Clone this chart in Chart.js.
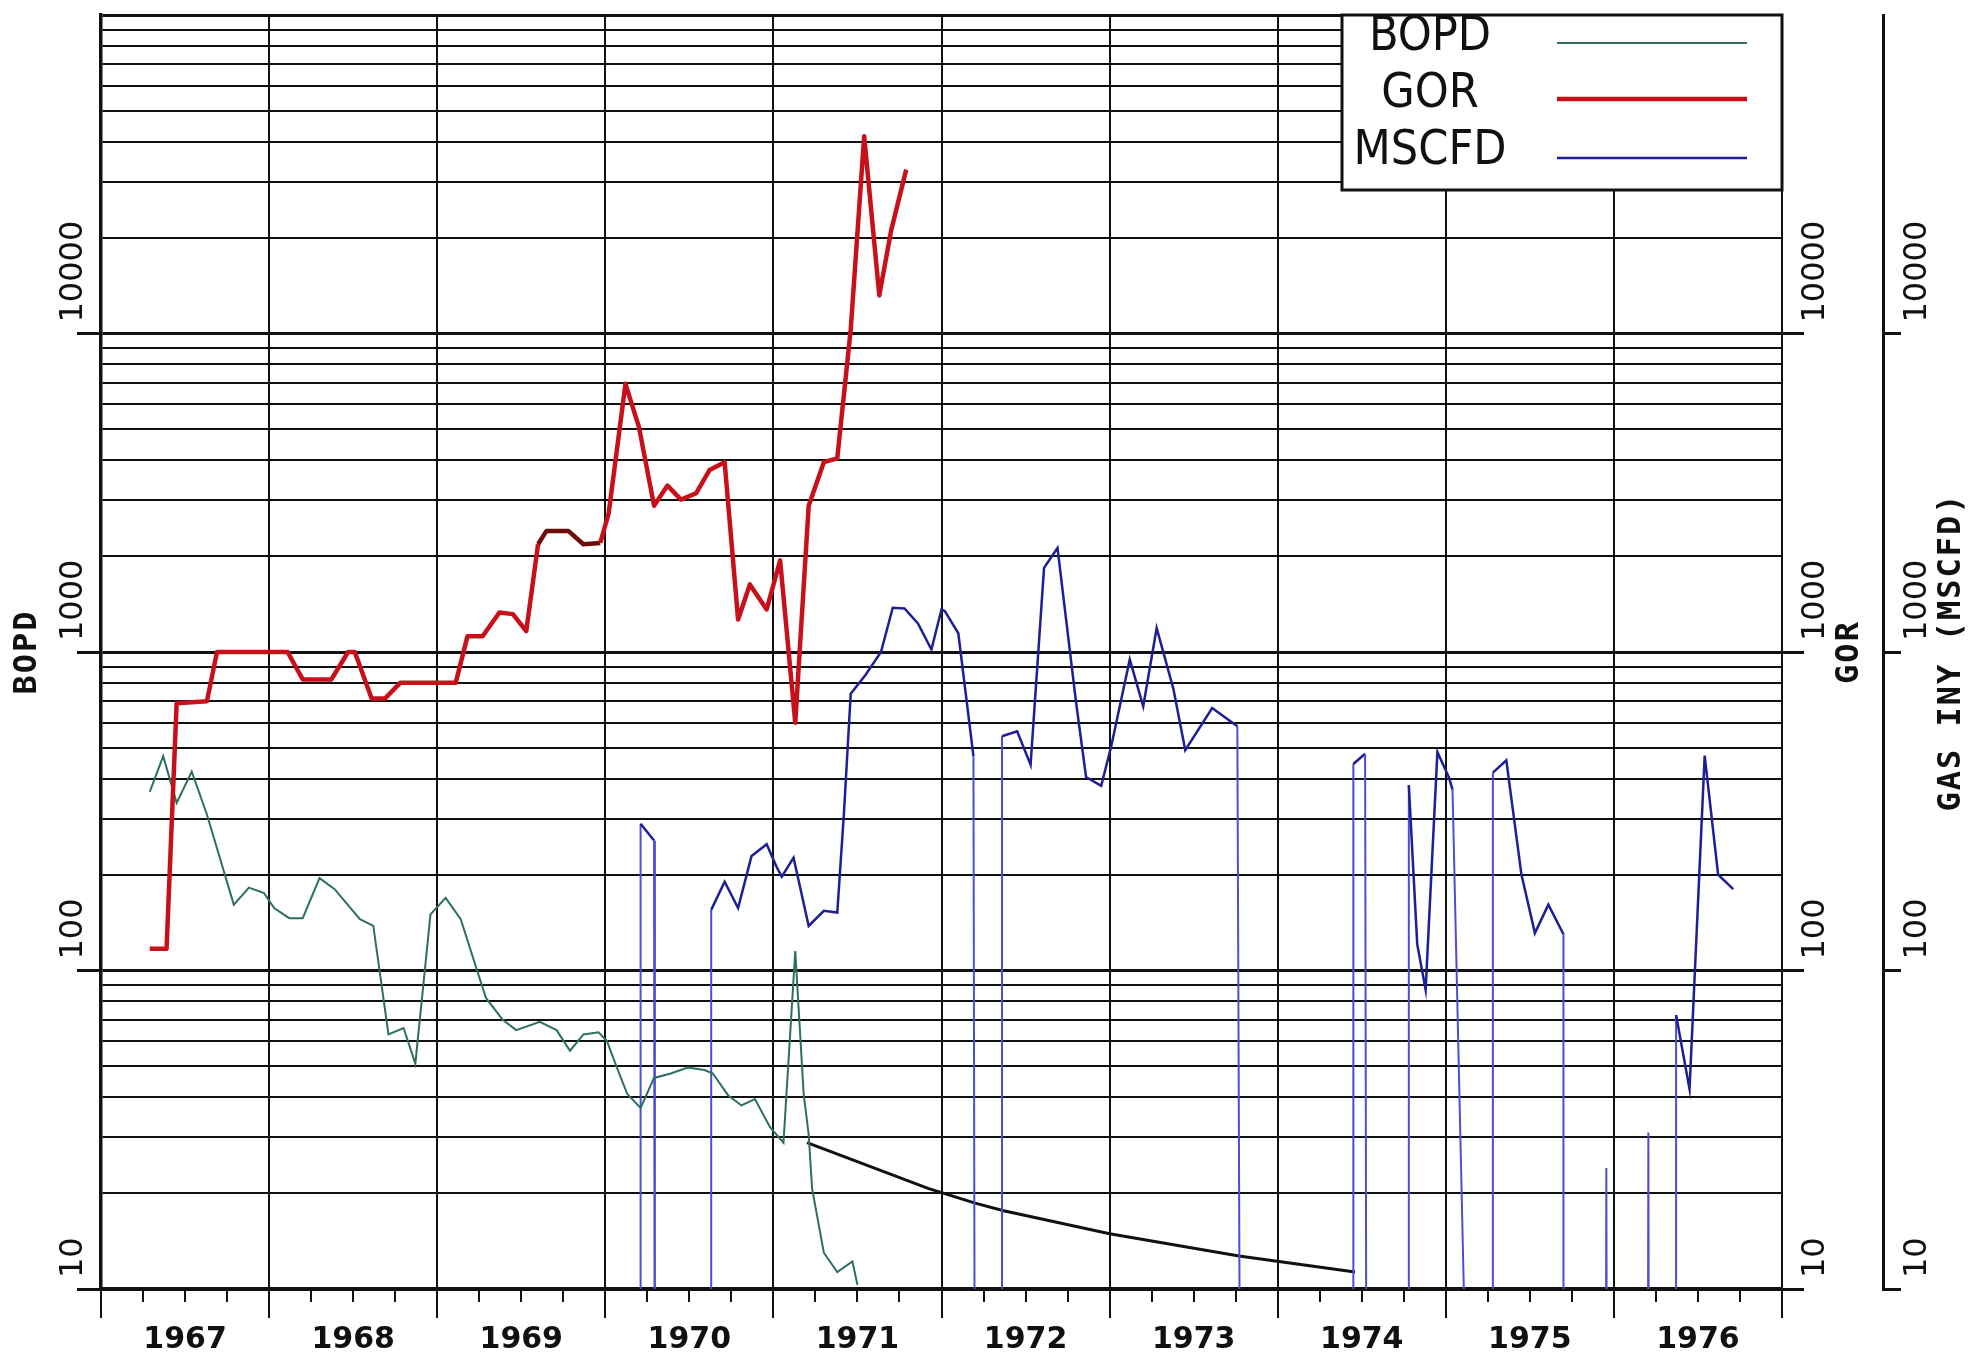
<!DOCTYPE html>
<html>
<head>
<meta charset="utf-8">
<title>BOPD - GOR - MSCFD</title>
<script src="https://cdn.jsdelivr.net/npm/chart.js@4.4.1/dist/chart.umd.min.js"></script>
<style>
    html, body { margin: 0; padding: 0; background: #ffffff; }
    canvas { display: block; }
</style>
</head>
<body>
<canvas id="grafico" width="1977" height="1360"></canvas>
<script>

// ---- data ----

const yearLabels = [
    "1967", "1968", "1969", "1970", "1971",
    "1972", "1973", "1974", "1975", "1976"
];

const decadeTicks = [10, 100, 1000, 10000];

const gorYears = [
    1967.29, 1967.39, 1967.45, 1967.63, 1967.69, 1968.11, 1968.2, 1968.37,
    1968.47, 1968.51, 1968.61, 1968.69, 1968.78, 1969.11, 1969.18, 1969.27,
    1969.37, 1969.45, 1969.53, 1969.6, 1969.65, 1969.78, 1969.87, 1969.97,
    1970.02, 1970.12, 1970.2, 1970.29, 1970.37, 1970.45, 1970.54, 1970.62,
    1970.71, 1970.79, 1970.86, 1970.96, 1971.04, 1971.13, 1971.21, 1971.3,
    1971.38, 1971.46, 1971.54, 1971.63, 1971.7, 1971.79
];

const gorValues = [
    117, 117, 690, 700, 1000, 1000, 820, 820,
    1000, 1000, 715, 715, 800, 800, 1120, 1120,
    1330, 1315, 1164, 2180, 2400, 2400, 2180, 2200,
    2725, 6950, 5090, 2880, 3330, 3010, 3150, 3725,
    3945, 1265, 1630, 1360, 1940, 600, 2880, 3945,
    4055, 10300, 41600, 13170, 21000, 32700
];

const bopdYears = [
    1967.29, 1967.37, 1967.45, 1967.54, 1967.63, 1967.79, 1967.88, 1967.97,
    1968.03, 1968.12, 1968.2, 1968.3, 1968.39, 1968.54, 1968.62, 1968.71,
    1968.8, 1968.87, 1968.96, 1969.05, 1969.14, 1969.29, 1969.39, 1969.47,
    1969.61, 1969.71, 1969.79, 1969.87, 1969.96, 1970.01, 1970.06, 1970.13,
    1970.21, 1970.29, 1970.39, 1970.49, 1970.59, 1970.64, 1970.73, 1970.81,
    1970.89, 1970.98, 1971.06, 1971.13, 1971.18, 1971.21, 1971.23, 1971.3,
    1971.38, 1971.47, 1971.5
];

const bopdValues = [
    364, 471, 336, 421, 309, 161, 182, 175,
    157, 146, 146, 195, 180, 145, 138, 63,
    66, 51, 150, 169, 145, 82, 70, 65,
    69, 65, 56, 63, 64, 60, 51, 41,
    37, 46, 47.5, 49.6, 48.7, 47.5, 40.6, 37.7,
    39.5, 32.2, 28.8, 115, 41, 30.5, 20.7, 13,
    11.3, 12.2, 10.3
];

// a value of 1 means no injection that month (falls below the axis)
const mscfdYears = [
    1970.21, 1970.21, 1970.29, 1970.295,
    1970.63, 1970.63, 1970.71, 1970.79, 1970.87, 1970.96, 1971.02, 1971.05,
    1971.12, 1971.21, 1971.3, 1971.38, 1971.42, 1971.46, 1971.55, 1971.64,
    1971.71, 1971.78, 1971.86, 1971.94, 1972.0, 1972.02, 1972.1, 1972.19, 1972.2,
    1972.36, 1972.36, 1972.45, 1972.53, 1972.61, 1972.69, 1972.8, 1972.86,
    1972.95, 1973.01, 1973.12, 1973.2, 1973.28, 1973.38, 1973.45, 1973.61,
    1973.76, 1973.78,
    1974.45, 1974.45, 1974.52, 1974.53,
    1974.78, 1974.78, 1974.83, 1974.88, 1974.95, 1975.02, 1975.04, 1975.15,
    1975.28, 1975.28, 1975.36, 1975.45, 1975.53, 1975.61, 1975.7, 1975.7,
    1975.95, 1975.955, 1975.96,
    1976.2, 1976.205, 1976.21,
    1976.37, 1976.37, 1976.45, 1976.54, 1976.62, 1976.71
];

const mscfdValues = [
    1, 289, 256, 1,
    1, 155, 190, 157, 229, 249, 211, 197,
    226, 138, 154, 152, 314, 740, 850, 1000,
    1377, 1370, 1230, 1018, 1360, 1343, 1145, 471, 1,
    1, 544, 564, 443, 1837, 2122, 699, 405,
    380, 507, 948, 675, 1189, 764, 492, 667,
    585, 1,
    1, 445, 479, 1,
    1, 382, 121, 87, 485, 402, 370, 1,
    1, 418, 457, 200, 131, 161, 130, 1,
    1, 24, 1,
    1, 31, 1,
    1, 72.5, 42.4, 473, 200, 180
];

const forecastYears = [1971.2, 1971.92, 1972.2, 1972.37, 1973.0, 1973.77, 1974.46];

const forecastValues = [28.8, 20.7, 18.6, 17.6, 14.9, 12.7, 11.3];

// ---- helpers ----

const INK = "#111111";

const CLEAR = "rgba(0,0,0,0)";

const toPoints = (xs, ys) =>
    xs.map((x, i) => ({ x, y: ys[i] }));

const logGridValues = [];

for (let d = 10; d < 100000; d *= 10) {

    for (let m = 1; m < 10; m++) {

        logGridValues.push(m * d);
    }
}

logGridValues.push(100000);

const isDecade = v =>
    [10, 100, 1000, 10000, 100000].includes(v);

const quarterTicks =
    Array.from({ length: 41 }, (_, i) => 1967 + i * 0.25);

const halfTicks =
    Array.from({ length: 21 }, (_, i) => 1967 + i * 0.5);

function drawUp(ctx, text, x, y) {

    ctx.save();

    ctx.translate(x, y);

    ctx.rotate(-Math.PI / 2);

    ctx.fillText(text, 0, 0);

    ctx.restore();
}

// rotated axis numbers + titles, and the boxed legend

const sheetPlugin = {

    id: "sheet",

    afterDraw(chart) {

        const ctx = chart.ctx;

        const area = chart.chartArea;

        const yLeft = chart.scales.y;

        const yGas = chart.scales.yGas;

        ctx.save();

        ctx.fillStyle = INK;

        ctx.textBaseline = "middle";

        // tick numbers
        ctx.font = '32px "DejaVu Sans"';

        ctx.letterSpacing = "0px";

        ctx.textAlign = "left";

        const columns = [
            ["y", yLeft.right - 27],
            ["yGor", area.right + 34],
            ["yGas", yGas.left + 35]
        ];

        columns.forEach(([id, x]) => {

            const scale = chart.scales[id];

            decadeTicks.forEach(v => {

                drawUp(ctx, String(v), x, scale.getPixelForValue(v) - 11);
            });
        });

        // axis titles
        ctx.font = 'bold 32px "DejaVu Sans Mono"';

        ctx.letterSpacing = "2px";

        ctx.textAlign = "center";

        const mid = yLeft.getPixelForValue(1000);

        drawUp(ctx, "BOPD", yLeft.left + 28, mid);

        drawUp(ctx, "GOR", area.right + 68, mid);

        drawUp(ctx, "GAS INY (MSCFD)", yGas.left + 69, mid);

        // legend box
        const box = {
            left: area.right - 440,
            top: area.top,
            right: area.right,
            bottom: area.top + 175
        };

        ctx.fillStyle = "#ffffff";

        ctx.fillRect(box.left, box.top, box.right - box.left, box.bottom - box.top);

        ctx.strokeStyle = INK;

        ctx.lineWidth = 3;

        ctx.strokeRect(box.left, box.top, box.right - box.left, box.bottom - box.top);

        ctx.font = '48px "Liberation Sans Narrow", "DejaVu Sans Condensed", "DejaVu Sans"';

        ctx.letterSpacing = "0px";

        ctx.fillStyle = INK;

        const rows = ["BOPD", "GOR", "MSCFD"];

        const rowY = [38, 95, 152];

        const lineY = [43, 99, 158];

        rows.forEach((name, i) => {

            const ds =
                chart.data.datasets.find(d => d.label === name);

            ctx.fillText(name, box.left + 88, box.top + rowY[i] - 15);

            ctx.strokeStyle = ds.borderColor;

            ctx.lineWidth = ds.borderWidth;

            ctx.beginPath();

            ctx.moveTo(box.left + 215, box.top + lineY[i] - 15);

            ctx.lineTo(box.left + 405, box.top + lineY[i] - 15);

            ctx.stroke();
        });

        ctx.restore();
    }
};

// ---- chart ----

let charts = {};

function renderChart() {

    const canvas = document.getElementById("grafico");

    if (!canvas || typeof Chart === "undefined") {
        return;
    }

    const logAxis = (position, extra) => Object.assign({

        type: "logarithmic",

        position,

        min: 10,

        max: 100000,

        ticks: { display: false }

    }, extra);

    charts.sheet = new Chart(canvas, {

        type: "line",

        data: {

            datasets: [
                {
                    label: "GOR",

                    data: toPoints(gorYears, gorValues),

                    borderColor: "#c8101a",

                    borderWidth: 4.5,

                    borderJoinStyle: "round",

                    segment: {
                        borderColor: c =>
                            c.p0.parsed.x >= 1969.58 && c.p1.parsed.x <= 1970.0
                                ? "#6e0b0b"
                                : undefined
                    }
                },
                {
                    label: "BOPD",

                    data: toPoints(bopdYears, bopdValues),

                    borderColor: "#2f6e62",

                    borderWidth: 2
                },
                {
                    label: "MSCFD",

                    data: toPoints(mscfdYears, mscfdValues),

                    borderColor: "#1e1e96",

                    borderWidth: 2.5,

                    segment: {
                        borderColor: c =>
                            c.p0.parsed.y < 10 || c.p1.parsed.y < 10
                                ? "#4d4dd2"
                                : undefined,

                        borderWidth: c =>
                            c.p0.parsed.y < 10 || c.p1.parsed.y < 10
                                ? 2
                                : undefined
                    }
                },
                {
                    label: "",

                    data: toPoints(forecastYears, forecastValues),

                    borderColor: INK,

                    borderWidth: 3
                }
            ].map(ds => Object.assign({

                pointRadius: 0,

                tension: 0,

                fill: false,

                clip: 0

            }, ds))
        },

        options: {

            responsive: false,

            animation: false,

            events: [],

            layout: {
                padding: { top: 15, left: 0, right: 0, bottom: 0 }
            },

            plugins: {

                legend: { display: false },

                tooltip: { enabled: false }
            },

            scales: {

                x: {

                    type: "linear",

                    position: "bottom",

                    min: 1967,

                    max: 1977,

                    afterBuildTicks: s => {
                        s.ticks = quarterTicks.map(value => ({ value }));
                    },

                    grid: {

                        color: c =>
                            c.tick && Number.isInteger(c.tick.value)
                                ? INK
                                : CLEAR,

                        lineWidth: 2,

                        tickLength: 13,

                        tickColor: INK
                    },

                    border: { display: true, color: INK, width: 3.5 },

                    ticks: { display: false },

                    afterFit: s => { s.height = 13; }
                },

                x2: {

                    type: "linear",

                    position: "bottom",

                    weight: 1,

                    min: 1967,

                    max: 1977,

                    afterBuildTicks: s => {
                        s.ticks = halfTicks.map(value => ({ value }));
                    },

                    grid: {

                        drawOnChartArea: false,

                        lineWidth: 2,

                        tickLength: 16,

                        tickColor: c =>
                            c.tick && Number.isInteger(c.tick.value)
                                ? INK
                                : CLEAR
                    },

                    border: { display: false },

                    ticks: {

                        autoSkip: false,

                        maxRotation: 0,

                        minRotation: 0,

                        padding: 4,

                        color: INK,

                        font: { family: '"DejaVu Sans"', size: 30, weight: "bold" },

                        callback: v =>
                            Number.isInteger(v)
                                ? ""
                                : yearLabels[Math.floor(v) - 1967]
                    },

                    afterFit: s => { s.height = 58; }
                },

                y: logAxis("left", {

                    afterBuildTicks: s => {
                        s.ticks = logGridValues.map(value => ({ value }));
                    },

                    grid: {

                        color: INK,

                        lineWidth: c => c.tick && isDecade(c.tick.value) ? 3 : 2,

                        tickLength: 24,

                        tickColor: c =>
                            c.tick && isDecade(c.tick.value) && c.tick.value < 100000
                                ? INK
                                : CLEAR
                    },

                    border: { display: true, color: INK, width: 3.5 },

                    afterFit: s => { s.width = 101; }
                }),

                yGor: logAxis("right", {

                    weight: 0,

                    afterBuildTicks: s => {
                        s.ticks = decadeTicks.map(value => ({ value }));
                    },

                    grid: {

                        drawOnChartArea: false,

                        color: INK,

                        lineWidth: 3,

                        tickLength: 22
                    },

                    border: { display: false },

                    afterFit: s => { s.width = 101; }
                }),

                yGas: logAxis("right", {

                    weight: 1,

                    afterBuildTicks: s => {
                        s.ticks = decadeTicks.map(value => ({ value }));
                    },

                    grid: {

                        drawOnChartArea: false,

                        color: INK,

                        lineWidth: 3,

                        tickLength: 18
                    },

                    border: { display: true, color: INK, width: 3 },

                    afterFit: s => { s.width = 94; }
                })
            }
        },

        plugins: [sheetPlugin]
    });
}

renderChart();

</script>
</body>
</html>
